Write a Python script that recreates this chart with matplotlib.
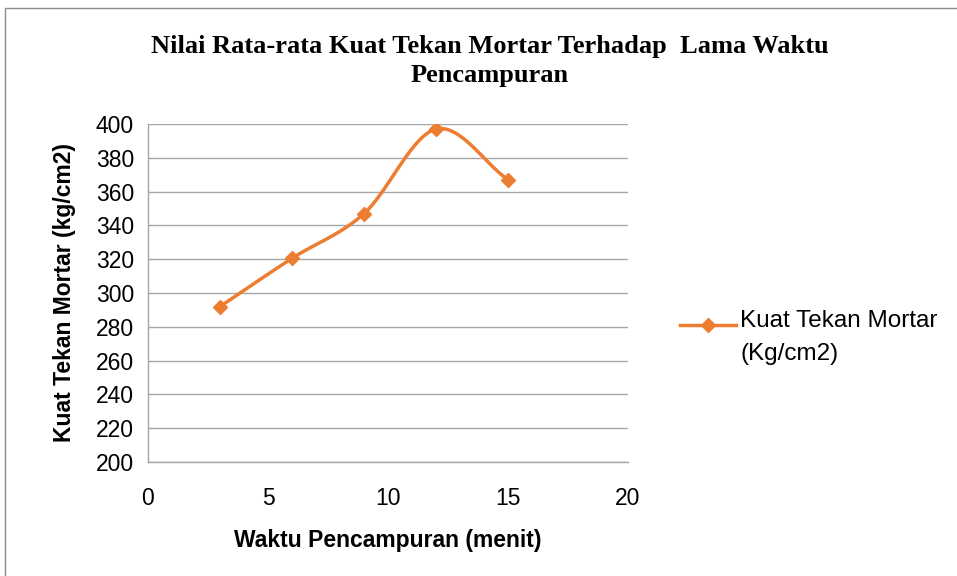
import matplotlib.pyplot as plt
import numpy as np
from matplotlib.patches import Rectangle

# data
waktu = [3, 6, 9, 12, 15]
kuat_tekan = [292, 320.5, 347, 397, 367]
y_ticks = [200, 220, 240, 260, 280, 300, 320, 340, 360, 380, 400]
x_ticks = [0, 5, 10, 15, 20]

title = "Nilai Rata-rata Kuat Tekan Mortar Terhadap  Lama Waktu\nPencampuran"
x_label = "Waktu Pencampuran (menit)"
y_label = "Kuat Tekan Mortar (kg/cm2)"
legend_label = "Kuat Tekan Mortar\n(Kg/cm2)"

orange = "#ED7D31"
grid_col = "#A6A6A6"
sans = ["Liberation Sans", "DejaVu Sans"]


def smooth(x, y, n=30):
    """Catmull-Rom curve through the points, like Excel's smoothed line."""
    x = np.asarray(x, float)
    y = np.asarray(y, float)
    px = np.concatenate([[2 * x[0] - x[1]], x, [2 * x[-1] - x[-2]]])
    py = np.concatenate([[2 * y[0] - y[1]], y, [2 * y[-1] - y[-2]]])
    xs, ys = [], []
    t = np.linspace(0, 1, n)
    for i in range(1, len(px) - 2):
        for p, out in ((px, xs), (py, ys)):
            p0, p1, p2, p3 = p[i - 1], p[i], p[i + 1], p[i + 2]
            out.extend(0.5 * ((2 * p1) + (-p0 + p2) * t
                              + (2 * p0 - 5 * p1 + 4 * p2 - p3) * t ** 2
                              + (-p0 + 3 * p1 - 3 * p2 + p3) * t ** 3))
    return xs, ys


fig = plt.figure(figsize=(9.57, 5.76), dpi=100)
fig.patches.append(Rectangle((5 / 957, -0.01), 1.0, 1.0 - 8 / 576 + 0.01,
                             transform=fig.transFigure, fill=False,
                             edgecolor="#8C8C8C", linewidth=1.0))

ax = fig.add_axes([148 / 957, 1 - 462 / 576, 480 / 957, 338 / 576])

sx, sy = smooth(waktu, kuat_tekan)
ax.plot(sx, sy, color=orange, linewidth=2.5, solid_capstyle="round")
ax.plot(waktu, kuat_tekan, linestyle="none", marker="D", markersize=7,
        color=orange)

ax.set_xlim(0, 20)
ax.set_ylim(200, 400)
ax.set_xticks(x_ticks)
ax.set_yticks(y_ticks)
ax.grid(axis="y", color=grid_col, linewidth=1.0)
ax.set_axisbelow(True)
for s in ["top", "right"]:
    ax.spines[s].set_visible(False)
for s in ["left", "bottom"]:
    ax.spines[s].set_color(grid_col)
    ax.spines[s].set_linewidth(1.0)
ax.tick_params(length=0, labelsize=16.5, pad=10)
ax.tick_params(axis="x", pad=18)
for lab in ax.get_xticklabels() + ax.get_yticklabels():
    lab.set_family(sans)

ax.set_xlabel(x_label, fontsize=16.5, fontweight="bold", family=sans, labelpad=14)
ax.set_ylabel(y_label, fontsize=16.5, fontweight="bold", family=sans, labelpad=14)

fig.text(490 / 957, 1 - 61 / 576, title, ha="center", va="center",
         fontsize=19, fontweight="bold", family="Liberation Serif",
         linespacing=1.35)

# legend drawn by hand to place it like the original
leg_y = 1 - 325 / 576
fig.add_artist(plt.Line2D([680 / 957, 736 / 957], [leg_y, leg_y],
                          color=orange, linewidth=2.5,
                          transform=fig.transFigure))
fig.add_artist(plt.Line2D([708 / 957], [leg_y], marker="D", markersize=7,
                          color=orange, transform=fig.transFigure))
fig.text(740 / 957, 1 - 310 / 576, legend_label, ha="left", va="top",
         fontsize=17.5, family=sans, linespacing=1.65)

fig.savefig("out.png", dpi=100)
